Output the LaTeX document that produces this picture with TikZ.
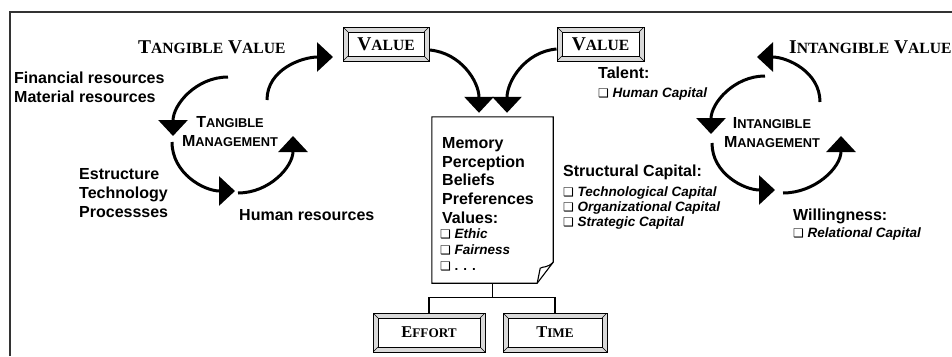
\documentclass[tikz,border=0pt]{standalone}
\usepackage{fontspec}
\setmainfont{Liberation Serif}
\setsansfont{Liberation Sans}
\newfontfamily\dvfont{DejaVu Sans}
\usetikzlibrary{arrows.meta}

% reduced-size letters for hand-made small capitals
\newcommand\lc[2]{{\fontsize{#1}{#1}\selectfont #2}}
% shadowed check box
\newcommand\cbox{{\dvfont\fontsize{12}{12}\selectfont ❑}}

\tikzset{
  lab/.style={font=\sffamily\bfseries\fontsize{16}{19}\selectfont, inner sep=0, anchor=base west},
  item/.style={font=\sffamily\bfseries\itshape\fontsize{13.5}{16}\selectfont, inner sep=0, anchor=base west},
  mgmt/.style={font=\sffamily\bfseries\fontsize{16}{19}\selectfont, inner sep=0, anchor=base},
  ttl/.style={font=\rmfamily\bfseries\fontsize{19.5}{22}\selectfont, inner sep=0, anchor=base west},
  cyc/.style={line width=3pt, -{Triangle[width=29pt,length=16pt]}},
  thinline/.style={line width=1.1pt},
  bevel/.style={draw, line width=1pt, fill=gray!30, inner sep=0,
    path picture={
      \draw[line width=0.6pt] (path picture bounding box.north west) -- ++(5pt,-5pt);
      \draw[line width=0.6pt] (path picture bounding box.north east) -- ++(-5pt,-5pt);
      \draw[line width=0.6pt] (path picture bounding box.south west) -- ++(5pt,5pt);
      \draw[line width=0.6pt] (path picture bounding box.south east) -- ++(-5pt,5pt);
      \draw[fill=white, line width=1pt]
        ([shift={(5pt,-5pt)}]path picture bounding box.north west) rectangle
        ([shift={(-5pt,5pt)}]path picture bounding box.south east);
    }},
  valbox/.style={bevel, font=\rmfamily\bfseries\fontsize{19.5}{22}\selectfont, minimum height=34pt},
  lowbox/.style={bevel, font=\rmfamily\bfseries\fontsize{16.5}{20}\selectfont, minimum height=39pt},
}

\begin{document}
\begin{tikzpicture}[x=1pt,y=1pt]
\useasboundingbox (0,-356) rectangle (952,0);
\fill[white] (0,-356) rectangle (952,0);

% outer frame (top and left edges)
\draw[line width=1.5pt, black!80] (10,-356) -- (10,-12) -- (952,-12);

% ---- headings ----
\node[ttl] (tv) at (138,-53) {T\lc{15.6}{ANGIBLE} V\lc{15.6}{ALUE}};
\node[ttl] (iv) at (789,-53) {I\lc{15.6}{NTANGIBLE} V\lc{15.6}{ALUE}};

% ---- value boxes ----
\node[valbox, minimum width=86pt] (v1) at (386,-44) {V\lc{15.6}{ALUE}};
\node[valbox, minimum width=87pt] (v2) at (600.5,-44) {V\lc{15.6}{ALUE}};

% ---- tangible side ----
\node[lab] (fin) at (14,-83) {Financial resources};
\node[lab] (mat) at (14,-102) {Material resources};
\node[lab] (est) at (79,-179) {Estructure};
\node[lab] (tec) at (79,-198) {Technology};
\node[lab] (pro) at (79,-217) {Processses};
\node[lab] (hum) at (239,-220) {Human resources};
\node[mgmt] (tm1) at (230,-127) {T\lc{12.8}{ANGIBLE}};
\node[mgmt] (tm2) at (230,-146) {M\lc{12.8}{ANAGEMENT}};

\coordinate (ta1) at (228,-77);  \coordinate (ta2) at (173,-136);
\coordinate (tb1) at (172,-142); \coordinate (tb2) at (235,-191);
\coordinate (tc1) at (238,-193); \coordinate (tc2) at (293,-136);
\coordinate (td1) at (267,-100); \coordinate (td2) at (333,-57);
\draw[cyc] (ta1) to[out=180,in=90] (ta2);
\draw[cyc] (tb1) to[out=270,in=180] (tb2);
\draw[cyc] (tc1) to[out=0,in=270] (tc2);
\draw[cyc] (td1) to[out=90,in=180] (td2);

% ---- intangible side ----
\node[mgmt] (im1) at (772,-128) {I\lc{12.8}{NTANGIBLE}};
\node[mgmt] (im2) at (772,-147) {M\lc{12.8}{ANAGEMENT}};

\coordinate (ia1) at (820,-102); \coordinate (ia2) at (757,-57);
\coordinate (ib1) at (765,-76);  \coordinate (ib2) at (711,-134);
\coordinate (ic1) at (712,-143); \coordinate (ic2) at (775,-190);
\coordinate (id1) at (783,-193); \coordinate (id2) at (841,-136);
\draw[cyc] (ia1) to[out=90,in=0] (ia2);
\draw[cyc] (ib1) to[out=180,in=90] (ib2);
\draw[cyc] (ic1) to[out=270,in=180] (ic2);
\draw[cyc] (id1) to[out=0,in=270] (id2);

\node[lab] (tal) at (598,-78) {Talent:};
\node[item] (hc) at (598,-97) {\cbox\ Human Capital};
\node[lab] (stc) at (563,-176) {Structural Capital:};
\node[item] (tcc) at (563,-196) {\cbox\ Technological Capital};
\node[item] (occ) at (563,-211) {\cbox\ Organizational Capital};
\node[item] (scc) at (563,-226) {\cbox\ Strategic Capital};
\node[lab] (wil) at (793,-220) {Willingness:};
\node[item] (rc) at (793,-237) {\cbox\ Relational Capital};

% ---- central document ----
\node[minimum width=121pt, minimum height=166pt, inner sep=0] (doc) at (492.5,-200) {};
\draw[thinline, fill=white] (doc.north west) -- (doc.north east)
  -- ([yshift=21pt]doc.south east) -- ([xshift=-16pt]doc.south east)
  -- (doc.south west) -- cycle;
\draw[thinline] ([yshift=21pt]doc.south east)
  .. controls ([shift={(-6pt,15pt)}]doc.south east) and ([shift={(-10pt,17pt)}]doc.south east)
  .. ([shift={(-13pt,15pt)}]doc.south east) -- ([xshift=-16pt]doc.south east);

\node[lab] (mem) at (442,-148) {Memory};
\node[lab] (per) at (442,-167) {Perception};
\node[lab] (bel) at (442,-185) {Beliefs};
\node[lab] (pre) at (442,-204) {Preferences};
\node[lab] (vals) at (442,-223) {Values:};
\node[item] (eth) at (440,-238) {\cbox\ Ethic};
\node[item] (fai) at (440,-254) {\cbox\ Fairness};
\node[item] (dots) at (440,-270) {\cbox\ \upshape. . .};

% value flows into the document
\coordinate (tipA) at ([xshift=-13.5pt,yshift=4pt]doc.north);
\coordinate (tipB) at ([xshift=14.5pt,yshift=4pt]doc.north);
\draw[cyc] ([yshift=-6pt]v1.east) to[out=-5,in=90] (tipA);
\draw[cyc] ([yshift=-5pt]v2.west) to[out=185,in=90] (tipB);

% ---- effort and time ----
\node[lowbox, minimum width=112pt] (effort) at (429,-332.5) {E\lc{13.2}{FFORT}};
\node[lowbox, minimum width=104pt] (time) at (555,-332.5) {T\lc{13.2}{IME}};
\draw[thinline] (doc.south) -- ++(0,-14) coordinate (split);
\draw[thinline] (split) -| (effort.north);
\draw[thinline] (split) -| (time.north);
\end{tikzpicture}
\end{document}
